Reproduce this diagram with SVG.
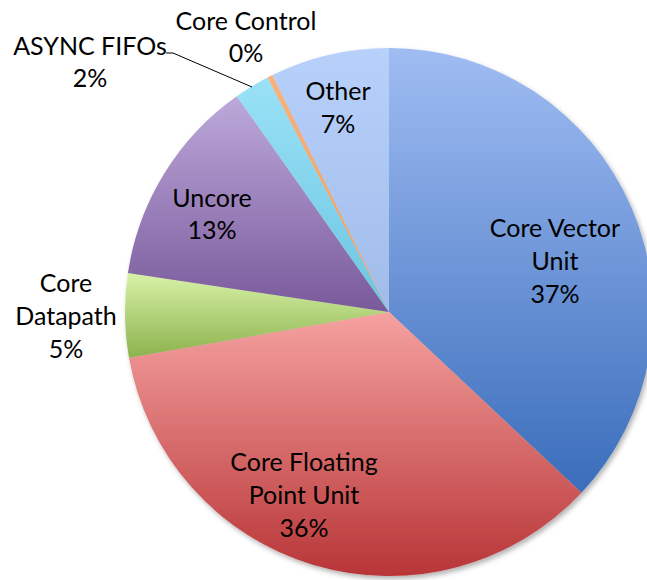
<svg xmlns="http://www.w3.org/2000/svg" width="647" height="580" viewBox="0 0 647 580">
  <style>
    .lbl { font-family: Lato, "Open Sans", "Liberation Sans", sans-serif; font-size: 25px; fill: #000; text-anchor: middle; }
    .lead { stroke: #000; stroke-width: 1; fill: none; }
  </style>
  <defs>
    <linearGradient id="gVec" x1="0" y1="0" x2="0" y2="1"><stop offset="0" stop-color="#a0bdf3"/><stop offset="1" stop-color="#3a6dbb"/></linearGradient>
    <linearGradient id="gFp" x1="0" y1="0" x2="0" y2="1"><stop offset="0" stop-color="#f5a2a0"/><stop offset="1" stop-color="#b83537"/></linearGradient>
    <linearGradient id="gDp" x1="0" y1="0" x2="0" y2="1"><stop offset="0" stop-color="#d8f2a8"/><stop offset="1" stop-color="#8cb24c"/></linearGradient>
    <linearGradient id="gUn" x1="0" y1="0" x2="0" y2="1"><stop offset="0" stop-color="#bda9da"/><stop offset="1" stop-color="#79599b"/></linearGradient>
    <linearGradient id="gAs" x1="0" y1="0" x2="0" y2="1"><stop offset="0" stop-color="#9ae2f6"/><stop offset="1" stop-color="#6cc4e2"/></linearGradient>
    <linearGradient id="gCc" x1="0" y1="0" x2="0" y2="1"><stop offset="0" stop-color="#f9b27c"/><stop offset="1" stop-color="#f29a5a"/></linearGradient>
    <linearGradient id="gOt" x1="0" y1="0" x2="0" y2="1"><stop offset="0" stop-color="#b7d1fb"/><stop offset="1" stop-color="#a2bcea"/></linearGradient>
    <filter id="shadow" x="-10%" y="-10%" width="120%" height="120%">
      <feDropShadow dx="2" dy="3" stdDeviation="2.5" flood-color="#000" flood-opacity="0.3"/>
    </filter>
  </defs>
  <rect width="647" height="580" fill="#fff"/>
  <g id="pie" filter="url(#shadow)">
    <g id="core-vector-unit">
      <path d="M389,312 L389,48 A264,264 0 0,1 581.5,492.7 Z" fill="url(#gVec)"/>
    </g>
    <g id="core-floating-point-unit">
      <path d="M389,312 L581.5,492.7 A264,264 0 0,1 129,357.8 Z" fill="url(#gFp)"/>
    </g>
    <g id="core-datapath">
      <path d="M389,312 L129,357.8 A264,264 0 0,1 127.9,273 Z" fill="url(#gDp)"/>
    </g>
    <g id="uncore">
      <path d="M389,312 L127.9,273 A264,264 0 0,1 236.8,96.3 Z" fill="url(#gUn)"/>
    </g>
    <g id="async-fifos">
      <path d="M389,312 L236.8,96.3 A264,264 0 0,1 267.5,77.6 Z" fill="url(#gAs)"/>
    </g>
    <g id="core-control">
      <path d="M389,312 L267.5,77.6 A264,264 0 0,1 272.4,75.1 Z" fill="url(#gCc)"/>
    </g>
    <g id="other">
      <path d="M389,312 L272.4,75.1 A264,264 0 0,1 389,48 Z" fill="url(#gOt)"/>
    </g>
  </g>
  <g id="connectors">
    <polyline class="lead" points="166,53 173,53 252,87"/>
  </g>
  <g id="labels">
    <g id="label-core-vector-unit">
      <text class="lbl" x="555" y="237">Core Vector<tspan x="555" y="270">Unit</tspan><tspan x="555" y="303">37%</tspan></text>
    </g>
    <g id="label-core-floating-point-unit">
      <text class="lbl" x="304" y="471">Core Floating<tspan x="304" y="504">Point Unit</tspan><tspan x="304" y="537">36%</tspan></text>
    </g>
    <g id="label-core-datapath">
      <text class="lbl" x="66" y="292">Core<tspan x="66" y="325">Datapath</tspan><tspan x="66" y="358">5%</tspan></text>
    </g>
    <g id="label-uncore">
      <text class="lbl" x="212" y="207">Uncore<tspan x="212" y="239">13%</tspan></text>
    </g>
    <g id="label-async-fifos">
      <text class="lbl" x="90" y="55">ASYNC FIFOs<tspan x="90" y="87">2%</tspan></text>
    </g>
    <g id="label-core-control">
      <text class="lbl" x="246" y="30">Core Control<tspan x="246" y="62">0%</tspan></text>
    </g>
    <g id="label-other">
      <text class="lbl" x="338" y="100">Other<tspan x="338" y="133">7%</tspan></text>
    </g>
  </g>
</svg>
